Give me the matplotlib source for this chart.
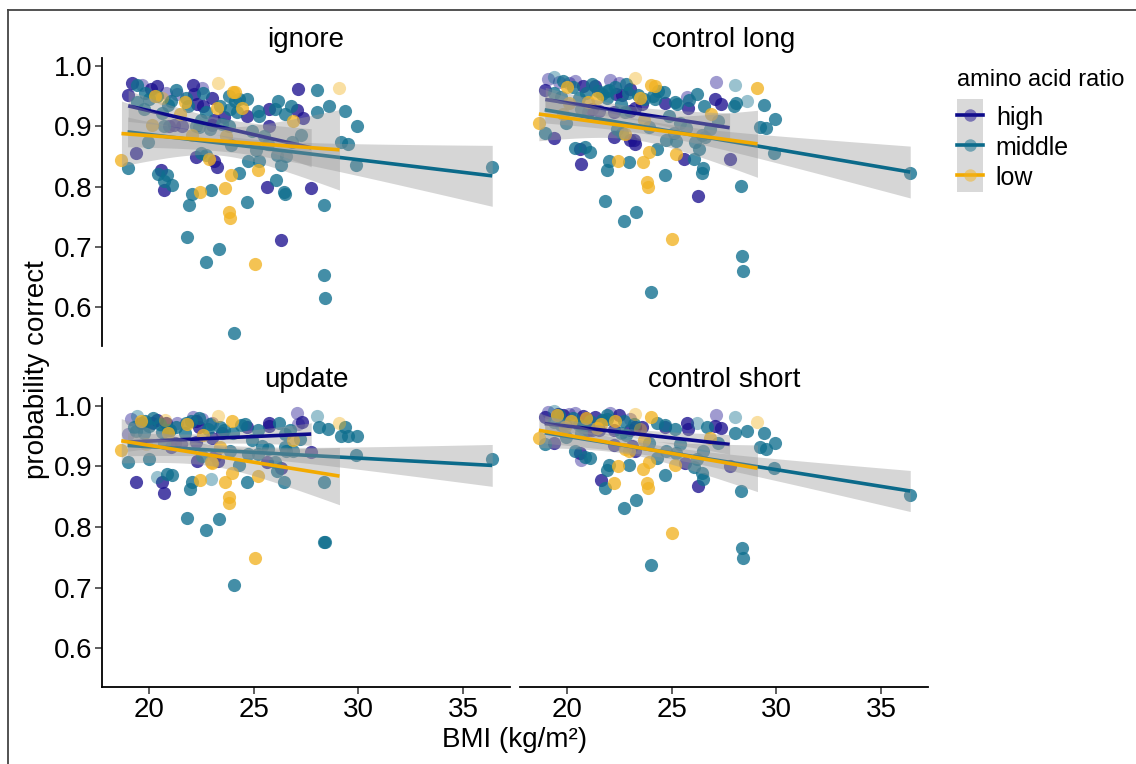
import matplotlib
matplotlib.use("Agg")
import matplotlib.pyplot as plt
import numpy as np
from matplotlib.lines import Line2D
from matplotlib.patches import Rectangle
from matplotlib.legend_handler import HandlerLine2D

# ------ data: (BMI, probability correct) per panel and amino acid ratio group ------
# "_pale" lists are the points drawn lighter in the original
ignore_high = [(19.17, .971), (20.08, .962), (20.37, .966), (19.0, .952), (22.1, .968), (22.14, .954),
               (27.11, .962), (22.3, .937), (22.57, .934), (23.02, .947), (24.7, .917), (25.71, .929),
               (27.06, .927), (27.35, .913), (20.95, .901), (21.19, .902), (21.56, .901), (23.02, .902),
               (23.1, .911), (23.6, .916), (25.71, .900), (19.38, .856), (22.22, .849), (23.1, .843),
               (23.27, .833), (20.59, .828), (20.71, .794), (25.62, .799), (27.75, .798), (26.29, .711)]
ignore_high_pale = [(19.65, .968), (20.79, .955), (21.35, .954), (22.51, .963)]
ignore_middle = [(19.44, .968), (28.03, .960), (19.44, .940), (20.0, .945), (19.76, .928), (21.05, .942),
                 (21.78, .947), (21.86, .934), (23.41, .934), (22.7, .923), (24.13, .942), (24.32, .945),
                 (24.68, .945), (24.21, .923), (23.89, .928), (25.21, .925), (25.24, .917), (26.16, .942),
                 (26.03, .929), (26.51, .920), (26.76, .934), (28.02, .924), (28.6, .934), (29.38, .925),
                 (29.95, .901), (20.6, .922), (20.71, .901), (22.22, .901), (22.49, .911), (23.49, .903),
                 (23.81, .901), (22.89, .895), (22.38, .899), (24.92, .892), (25.48, .884), (25.67, .871),
                 (23.92, .869), (19.97, .874), (26.83, .874), (27.25, .885), (29.17, .874), (29.52, .870),
                 (18.97, .831), (22.46, .855), (22.7, .853), (25.11, .860), (24.73, .843), (25.24, .842),
                 (26.11, .852), (26.54, .851), (26.3, .836), (24.32, .823), (29.87, .836), (20.44, .821),
                 (20.87, .819), (20.71, .809), (21.11, .802), (22.06, .787), (22.97, .794), (21.92, .770),
                 (24.68, .774), (26.05, .811), (26.46, .791), (26.48, .788), (28.35, .770), (21.81, .717),
                 (23.33, .697), (22.73, .675), (28.37, .654), (28.41, .615), (24.08, .557), (36.4, .833),
                 (19.8, .955), (20.4, .950), (21.3, .960), (20.9, .935), (22.6, .955), (23.8, .950)]
ignore_middle_pale = []
ignore_low = [(24.02, .957), (24.13, .957), (23.25, .931), (24.44, .931), (26.87, .909), (21.46, .921),
              (20.13, .902), (23.7, .884), (22.06, .885), (18.68, .844), (22.86, .845), (25.21, .827),
              (23.92, .820), (22.43, .791), (23.65, .797), (23.81, .758), (23.86, .748), (25.05, .671),
              (20.3, .950), (21.7, .940)]
ignore_low_pale = [(23.29, .972), (29.1, .963), (20.63, .947)]

clong_high = [(18.96, .960), (20.76, .967), (21.35, .966), (23.03, .961), (22.36, .953), (22.63, .952),
              (27.09, .945), (27.36, .937), (25.76, .931), (24.7, .938), (21.0, .924), (21.19, .928),
              (21.51, .925), (22.23, .924), (23.03, .925), (23.26, .931), (23.58, .936), (23.03, .878),
              (22.23, .882), (23.18, .877), (23.26, .871), (20.61, .862), (20.68, .838), (19.36, .881),
              (25.61, .845), (27.77, .845), (26.26, .785)]
clong_high_pale = [(19.09, .979), (19.6, .973), (20.08, .971), (20.37, .975), (22.07, .976), (22.5, .971),
                   (27.12, .973), (25.73, .949)]
clong_middle = [(19.39, .955), (19.71, .949), (20.56, .947), (20.68, .928), (21.67, .953), (21.91, .958),
                (21.91, .946), (22.6, .936), (22.79, .923), (24.62, .956), (24.22, .945), (24.35, .959),
                (24.1, .950), (25.84, .943), (26.21, .954), (25.18, .940), (25.26, .936), (26.53, .934),
                (27.99, .934), (28.07, .938), (29.39, .935), (29.95, .912), (29.2, .899), (29.51, .897),
                (29.87, .856), (24.86, .917), (25.41, .906), (25.68, .897), (27.21, .908), (26.85, .895),
                (26.45, .885), (26.58, .882), (26.1, .874), (26.29, .863), (25.13, .889), (24.73, .878),
                (25.22, .875), (24.3, .862), (23.9, .898), (22.95, .841), (22.02, .842), (21.93, .827),
                (24.67, .820), (26.05, .845), (26.48, .831), (26.45, .822), (28.33, .801), (21.8, .776),
                (22.71, .743), (23.31, .758), (28.36, .685), (28.42, .660), (24.03, .626), (18.93, .889),
                (19.95, .905), (22.39, .895), (22.63, .888), (20.4, .864), (20.84, .866), (21.1, .858),
                (36.4, .822), (22.0, .960), (21.5, .958), (23.4, .952), (23.7, .945), (22.9, .955),
                (19.8, .975), (20.3, .965), (21.2, .970), (22.3, .965), (20.9, .955), (22.8, .970)]
clong_middle_pale = [(19.36, .981), (28.04, .968), (28.6, .941)]
clong_low = [(24.03, .968), (24.2, .966), (26.88, .921), (25.21, .854), (23.93, .858), (23.63, .841),
             (22.42, .843), (23.82, .808), (23.85, .799), (25.02, .713), (18.65, .906), (19.81, .921),
             (20.11, .939), (21.43, .947), (21.0, .940), (23.5, .947), (23.66, .911), (22.79, .887),
             (29.1, .963), (20.0, .965)]
clong_low_pale = [(23.26, .980)]

update_high = [(19.6, .972), (20.13, .972), (20.37, .976), (20.83, .971), (22.22, .975), (22.38, .965),
               (24.68, .965), (25.71, .972), (25.75, .966), (27.33, .973), (21.03, .932), (21.22, .939),
               (21.51, .937), (22.22, .940), (23.02, .947), (23.49, .955), (27.75, .924), (26.3, .898),
               (25.63, .908), (22.27, .909), (23.13, .917), (23.29, .909), (20.63, .874), (20.71, .856),
               (19.37, .874)]
update_high_pale = [(19.13, .979), (21.35, .972), (22.11, .981), (22.54, .979), (23.02, .972), (27.06, .988),
                    (27.11, .970), (18.97, .954)]
update_middle = [(21.75, .972), (26.19, .971), (26.75, .961), (26.51, .953), (28.1, .965), (28.57, .962),
                 (29.37, .965), (29.17, .951), (29.52, .951), (29.95, .950), (29.87, .919), (19.37, .958),
                 (19.76, .955), (20.0, .966), (20.63, .957), (20.71, .939), (22.51, .918), (23.89, .926),
                 (24.92, .943), (25.4, .933), (25.68, .929), (25.19, .921), (24.73, .921), (26.51, .932),
                 (26.54, .926), (26.87, .926), (27.22, .946), (26.03, .907), (26.11, .893), (24.32, .903),
                 (18.97, .908), (20.0, .913), (20.84, .888), (21.11, .886), (22.06, .875), (21.95, .863),
                 (24.68, .875), (26.44, .874), (28.35, .874), (21.83, .815), (23.33, .813), (22.73, .795),
                 (28.38, .776), (28.42, .775), (24.08, .704), (36.4, .912), (25.21, .961), (24.4, .968),
                 (23.6, .960), (22.8, .962), (21.0, .960), (24.0, .955),
                 (19.8, .975), (20.5, .970), (21.3, .965), (22.0, .975), (22.9, .970), (23.4, .965),
                 (24.6, .970), (20.9, .960), (21.7, .955), (19.3, .965), (22.4, .980), (20.2, .980)]
update_middle_pale = [(19.4, .984), (28.02, .984), (20.4, .882), (22.97, .879)]
update_low = [(23.97, .975), (26.9, .943), (23.41, .932), (22.94, .907), (18.67, .927), (22.43, .878),
              (23.65, .875), (23.94, .889), (23.81, .849), (23.84, .839), (25.21, .884), (25.05, .749),
              (20.9, .955), (22.6, .952), (23.0, .905), (19.6, .975), (21.8, .970)]
update_low_pale = [(20.75, .977), (23.29, .984), (29.1, .971), (19.84, .937)]

cshort_high = [(18.93, .981), (19.57, .987), (20.76, .983), (21.35, .982), (22.5, .985), (25.73, .971),
               (25.76, .962), (27.09, .966), (27.36, .963), (27.77, .900), (26.26, .868), (25.62, .905),
               (24.7, .965), (19.36, .939), (20.61, .922), (21.0, .961), (21.19, .961), (21.51, .960),
               (22.23, .960), (23.03, .960), (23.26, .965), (23.58, .965), (22.23, .935), (23.1, .933),
               (23.26, .925), (21.64, .877), (19.8, .985), (20.9, .980)]
cshort_high_pale = [(19.09, .990), (20.08, .986), (20.37, .988), (22.07, .988), (23.03, .979), (27.12, .985),
                    (20.68, .910)]
cshort_middle = [(26.69, .965), (28.04, .955), (28.6, .959), (29.39, .955), (29.95, .939), (29.2, .932),
                 (29.51, .929), (29.87, .898), (28.33, .860), (28.36, .766), (28.42, .749), (27.21, .939),
                 (26.5, .926), (26.21, .913), (26.05, .899), (26.45, .890), (26.48, .879), (25.22, .922),
                 (24.73, .926), (25.41, .937), (25.18, .962), (24.3, .914), (24.67, .886), (23.9, .939),
                 (22.95, .903), (22.02, .903), (21.93, .894), (21.8, .864), (22.71, .832), (23.31, .844),
                 (24.03, .738), (18.93, .937), (19.95, .949), (20.4, .925), (20.84, .915), (21.1, .914),
                 (21.67, .976), (21.91, .979), (19.71, .968), (19.39, .973), (20.56, .968), (20.68, .955),
                 (22.6, .955), (22.8, .952), (24.3, .972), (24.7, .968), (36.4, .853),
                 (19.6, .985), (20.3, .980), (21.1, .975), (21.9, .985), (22.7, .975), (23.2, .970),
                 (20.7, .965), (19.9, .970)]
cshort_middle_pale = [(19.36, .992), (28.04, .981), (26.21, .972)]
cshort_low = [(24.03, .981), (26.85, .947), (25.18, .903), (23.93, .907), (23.63, .896), (22.42, .901),
              (23.82, .872), (23.85, .865), (25.02, .791), (18.65, .947), (21.43, .964), (22.79, .929),
              (22.95, .925), (23.66, .943), (22.23, .872), (19.5, .985), (20.2, .975), (20.9, .980),
              (21.6, .970), (19.9, .965), (22.3, .975)]
cshort_low_pale = [(23.26, .987), (29.1, .973), (23.5, .962)]

panel_titles = ["ignore", "control long", "update", "control short"]
groups = ["high", "middle", "low"]
y_ticks = [0.6, 0.7, 0.8, 0.9, 1.0]
x_ticks = [20, 25, 30, 35]

panels = {
    "ignore": [(ignore_high, ignore_high_pale), (ignore_middle, ignore_middle_pale), (ignore_low, ignore_low_pale)],
    "control long": [(clong_high, clong_high_pale), (clong_middle, clong_middle_pale), (clong_low, clong_low_pale)],
    "update": [(update_high, update_high_pale), (update_middle, update_middle_pale), (update_low, update_low_pale)],
    "control short": [(cshort_high, cshort_high_pale), (cshort_middle, cshort_middle_pale),
                      (cshort_low, cshort_low_pale)],
}

# ------ style ------
plt.rcParams['font.family'] = ['Liberation Sans', 'DejaVu Sans']
point_cols = {"high": "#1d1290", "middle": "#0f6f8e", "low": "#f2b323"}
line_cols = {"high": "#0c0a8a", "middle": "#0b6a8a", "low": "#f2aa00"}
band_z = 1.35  # width of the grey band around each fit


def fit_band(x, y):
    # linear fit with confidence band (like geom_smooth(method = "lm"))
    n = len(x)
    b, a = np.polyfit(x, y, 1)
    xs = np.linspace(x.min(), x.max(), 100)
    yhat = a + b * xs
    s = np.sqrt(np.sum((y - (a + b * x)) ** 2) / (n - 2))
    sxx = np.sum((x - x.mean()) ** 2)
    se = s * np.sqrt(1.0 / n + (xs - x.mean()) ** 2 / sxx)
    return xs, yhat, yhat - band_z * se, yhat + band_z * se


class KeyHandler(HandlerLine2D):
    # legend key with grey background, as in ggplot
    def create_artists(self, legend, orig_handle, xdescent, ydescent, width, height, fontsize, trans):
        arts = super().create_artists(legend, orig_handle, xdescent, ydescent, width, height, fontsize, trans)
        bg = Rectangle((-xdescent, -ydescent - 0.2 * height), width, height * 1.45,
                       facecolor="#d9d9d9", edgecolor="none", transform=trans, zorder=0)
        return [bg] + list(arts)


W, H = 1136, 764
fig = plt.figure(figsize=(W / 100, H / 100), dpi=100)

# panel rectangles in pixels: left, top, right, bottom
boxes = [(102, 58, 510, 346), (520, 58, 928, 346), (102, 398, 510, 687), (520, 398, 928, 687)]

for k, (title, box) in enumerate(zip(panel_titles, boxes)):
    l, t, r, b = box
    ax = fig.add_axes([l / W, 1 - b / H, (r - l) / W, (b - t) / H])
    ax.set_xlim(17.75, 37.25)
    ax.set_ylim(0.536, 1.013)

    for gi, (g, (pts, pale)) in enumerate(zip(groups, panels[title])):
        pts = np.array(pts)
        ax.scatter(pts[:, 0], pts[:, 1], s=90, color=point_cols[g], alpha=0.78, linewidths=0, zorder=1)
        allpts = pts
        if len(pale):
            pale = np.array(pale)
            ax.scatter(pale[:, 0], pale[:, 1], s=90, color=point_cols[g], alpha=0.42, linewidths=0, zorder=1)
            allpts = np.vstack([pts, pale])
        xs, yhat, lo, hi = fit_band(allpts[:, 0], allpts[:, 1])
        ax.fill_between(xs, lo, hi, color="#999999", alpha=0.4, linewidth=0, zorder=2 + gi)
        ax.plot(xs, yhat, color=line_cols[g], lw=2.6, zorder=2.5 + gi, solid_capstyle="butt")

    ax.text(0.5, 1 + 18 / (b - t), title, transform=ax.transAxes, ha="center", va="center", fontsize=20)

    for s in ["top", "right"]:
        ax.spines[s].set_visible(False)
    ax.spines["left"].set_visible(k % 2 == 0)
    ax.spines["bottom"].set_visible(k >= 2)
    ax.spines["left"].set_linewidth(1.3)
    ax.spines["bottom"].set_linewidth(1.3)
    ax.tick_params(length=5, width=1.1, color="#333333", labelsize=20, labelcolor="black", pad=2)
    if k % 2 == 0:
        ax.set_yticks(y_ticks)
        ax.set_yticklabels([f"{v:.1f}" for v in y_ticks])
    else:
        ax.set_yticks([])
    if k >= 2:
        ax.set_xticks(x_ticks)
    else:
        ax.set_xticks([])

fig.text(37 / W, 1 - 370 / H, "probability correct", rotation=90, ha="center", va="center", fontsize=20)
fig.text(515 / W, 1 - 740 / H, "BMI (kg/m²)", ha="center", va="center", fontsize=20)

handles = [Line2D([0], [0], color=line_cols[g], lw=2.6, marker="o", markersize=9,
                  markerfacecolor=matplotlib.colors.to_rgba(point_cols[g], 0.5), markeredgewidth=0)
           for g in groups]
leg = fig.legend(handles, groups, loc="upper left", bbox_to_anchor=(952 / W, 1 - 64 / H),
                 frameon=False, fontsize=18, title="amino acid ratio", title_fontsize=17,
                 handlelength=1.05, handleheight=1.0, labelspacing=0.22, handletextpad=0.5,
                 borderaxespad=0, borderpad=0.2, handler_map={Line2D: KeyHandler()})
leg._legend_box.align = "left"
leg._legend_box.sep += 6  # a little more room under the legend title

# outer frame lines (left and top) of the original figure
fig.add_artist(Line2D([8 / W, 8 / W], [0, 1 - 10 / H], color="#444444", lw=1.3))
fig.add_artist(Line2D([8 / W, 1], [1 - 10 / H, 1 - 10 / H], color="#444444", lw=1.3))

fig.savefig("out.png", dpi=100)
